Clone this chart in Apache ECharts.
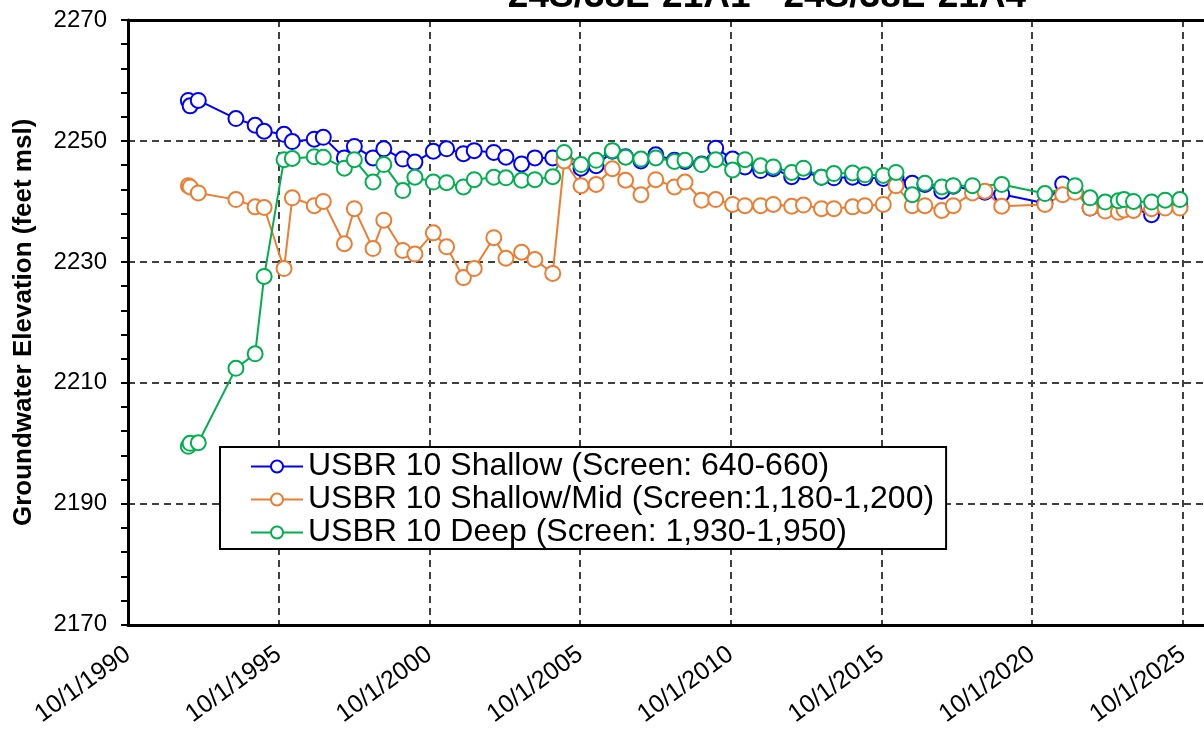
<!DOCTYPE html>
<html>
<head>
<meta charset="utf-8">
<script src="https://cdn.jsdelivr.net/npm/echarts@6/dist/echarts.min.js"></script>
<style>
  html, body { margin: 0; padding: 0; background: #fff; }
  #main { width: 1204px; height: 729px; }
</style>
</head>
<body>
<div id="main"></div>
<script type="text/javascript">
    // sampling dates (shared by the three wells)
    var dates = [
        '1992-10-01', '1992-10-23', '1993-01-30', '1994-05-01', '1994-12-20', '1995-04-08', '1995-12-05', '1996-03-14',
        '1996-12-05', '1997-03-25', '1997-12-05', '1998-04-05', '1998-11-17', '1999-03-28', '1999-11-13', '2000-04-08',
        '2000-11-17', '2001-04-27', '2001-11-17', '2002-03-28', '2002-11-20', '2003-04-16', '2003-10-23', '2004-04-01',
        '2004-11-03', '2005-03-22', '2005-10-12', '2006-04-13', '2006-10-27', '2007-04-05', '2007-10-08', '2008-04-05',
        '2008-11-17', '2009-03-25', '2009-10-12', '2010-04-01', '2010-10-23', '2011-03-22', '2011-09-27', '2012-02-28',
        '2012-10-08', '2013-02-28', '2013-10-04', '2014-03-04', '2014-10-16', '2015-03-14', '2015-10-23', '2016-03-25',
        '2016-10-08', '2017-03-10', '2017-10-01', '2018-02-17', '2018-10-08', '2019-03-07', '2019-09-27', '2021-03-04',
        '2021-10-05', '2022-03-04', '2022-09-02', '2023-03-04', '2023-08-11', '2023-10-19', '2024-02-10', '2024-09-16',
        '2025-02-28', '2025-08-25'
    ];

    // USBR 10 Shallow (Screen: 640-660)
    var shallow = [
        2256.7, 2255.8, 2256.7, 2253.7, 2252.6, 2251.6, 2251.1, 2249.9,
        2250.3, 2250.6, 2247.2, 2249.1, 2247.2, 2248.7, 2247.0, 2246.5,
        2248.3, 2248.7, 2247.9, 2248.4, 2248.1, 2247.3, 2246.2, 2247.2,
        2247.2, 2246.8, 2245.5, 2245.9, 2248.3, 2247.4, 2246.7, 2247.7,
        2246.8, 2246.6, 2246.2, 2248.8, 2247.0, 2245.7, 2245.1, 2245.4,
        2244.1, 2244.9, 2244.0, 2243.9, 2244.0, 2243.9, 2243.8, 2244.0,
        2243.0, 2242.8, 2241.7, 2242.5, null, 2241.5, 2241.2, 2239.7,
        2242.9, 2241.7, 2238.9, 2238.6, 2238.4, 2239.5, 2238.9, 2237.8,
        2239.2, 2239.2
    ];

    // USBR 10 Shallow/Mid (Screen:1,180-1,200)
    var shallowMid = [
        2242.6, 2242.4, 2241.4, 2240.3, 2239.1, 2239.0, 2228.9, 2240.6,
        2239.3, 2240.0, 2233.0, 2238.8, 2232.2, 2236.9, 2231.9, 2231.3,
        2234.8, 2232.5, 2227.4, 2228.9, 2234.0, 2230.6, 2231.6, 2230.4,
        2228.1, 2246.7, 2242.6, 2242.8, 2245.4, 2243.5, 2241.1, 2243.6,
        2242.4, 2243.2, 2240.2, 2240.3, 2239.5, 2239.3, 2239.3, 2239.5,
        2239.2, 2239.4, 2238.8, 2238.8, 2239.1, 2239.3, 2239.5, 2242.6,
        2239.3, 2239.3, 2238.5, 2239.3, 2241.4, 2241.7, 2239.2, 2239.5,
        2241.1, 2241.5, 2238.9, 2238.4, 2238.2, 2238.6, 2238.5, 2238.8,
        2238.9, 2238.9
    ];

    // USBR 10 Deep (Screen: 1,930-1,950)
    var deep = [
        2199.5, 2200.0, 2200.1, 2212.4, 2214.8, 2227.6, 2246.9, 2247.1,
        2247.4, 2247.3, 2245.5, 2246.9, 2243.2, 2246.1, 2241.8, 2244.0,
        2243.2, 2243.1, 2242.4, 2243.6, 2244.0, 2243.9, 2243.5, 2243.6,
        2244.1, 2248.1, 2246.1, 2246.8, 2248.4, 2247.3, 2247.0, 2247.2,
        2246.6, 2246.8, 2246.1, 2246.9, 2245.2, 2246.9, 2245.9, 2245.7,
        2244.8, 2245.5, 2244.0, 2244.6, 2244.7, 2244.4, 2244.3, 2244.8,
        2241.1, 2243.0, 2242.4, 2242.6, 2242.6, null, 2242.8, 2241.3,
        null, 2242.6, 2240.6, 2239.9, 2240.1, 2240.3, 2240.0, 2239.9,
        2240.2, 2240.3
    ];

    var seriesNames = [
        'USBR 10 Shallow (Screen: 640-660)',
        'USBR 10 Shallow/Mid (Screen:1,180-1,200)',
        'USBR 10 Deep (Screen: 1,930-1,950)'
    ];
    var seriesColors = ['#0000ff', '#ed7d31', '#00b050'];

    var FONT = '"Liberation Sans", Arial, sans-serif';
    var YEAR_MS = 365.25 * 864e5;
    var X_MIN = Date.UTC(1990, 9, 1);
    // plot is cut off by the right edge of the picture, a little after 10/1/2025
    var X_MAX = X_MIN + 35.7 * YEAR_MS;

    function pairs(values) {
        return dates.map(function (d, i) {
            return [Date.parse(d), values[i]];
        });
    }

    var myChart = echarts.init(document.getElementById('main'));

    var series = [shallow, shallowMid, deep].map(function (vals, i) {
        return {
            name: seriesNames[i],
            type: 'line',
            data: pairs(vals),
            connectNulls: true,
            symbol: 'emptyCircle',
            symbolSize: 15,
            showSymbol: true,
            color: seriesColors[i],
            lineStyle: { width: 2, color: seriesColors[i] },
            itemStyle: { color: seriesColors[i], borderWidth: 2.5 },
            animation: false
        };
    });

    var dashed = { color: '#404040', width: 2, type: [7, 5] };

    var option = {
        backgroundColor: '#fff',
        textStyle: { fontFamily: FONT },
        title: {
            text: '24S/38E-21A1 - 24S/38E-21A4',
            left: 767,
            top: -22,
            padding: 0,
            textAlign: 'center',
            textStyle: { fontSize: 37, fontWeight: 'bold', color: '#000', fontFamily: FONT }
        },
        grid: { left: 128, top: 20, right: 0, bottom: 103 },
        legend: {
            orient: 'vertical',
            left: 220,
            top: 447,
            padding: [3, 12, 0, 30],
            itemGap: 0,
            itemWidth: 52,
            itemHeight: 15,
            borderColor: '#000',
            borderWidth: 2,
            borderRadius: 0,
            backgroundColor: '#fff',
            textStyle: { fontSize: 32, color: '#000', fontFamily: FONT, lineHeight: 33 },
            data: seriesNames
        },
        xAxis: [{
            type: 'value',
            min: X_MIN,
            max: X_MAX,
            interval: 5 * YEAR_MS,
            axisLine: { show: true, onZero: false, lineStyle: { color: '#000', width: 3 } },
            axisTick: { show: false },
            splitLine: { show: true, showMaxLine: false, lineStyle: dashed },
            axisLabel: {
                rotate: 36,
                margin: 27,
                fontSize: 25,
                color: '#000',
                fontFamily: FONT,
                showMaxLabel: false,
                formatter: function (v) {
                    var yr = 1990 + Math.round((v - X_MIN) / YEAR_MS);
                    return yr % 5 === 0 ? '10/1/' + yr : '';
                }
            }
        }, {
            // top border of the plot area
            type: 'value',
            position: 'top',
            min: X_MIN,
            max: X_MAX,
            axisLine: { show: true, onZero: false, lineStyle: { color: '#000', width: 3 } },
            axisTick: { show: false },
            axisLabel: { show: false },
            splitLine: { show: false }
        }],
        yAxis: {
            type: 'value',
            min: 2170,
            max: 2270,
            interval: 20,
            name: 'Groundwater Elevation (feet msl)',
            nameLocation: 'middle',
            nameGap: 91,
            nameTextStyle: { fontSize: 26, fontWeight: 'bold', color: '#000', fontFamily: FONT },
            axisLine: { show: true, onZero: false, lineStyle: { color: '#000', width: 3 } },
            axisTick: { show: true, inside: false, length: 7, lineStyle: { color: '#000', width: 2 } },
            minorTick: { show: true, splitNumber: 5, length: 7, lineStyle: { color: '#000', width: 2 } },
            splitLine: { show: true, showMinLine: false, showMaxLine: false, lineStyle: dashed },
            axisLabel: {
                fontSize: 24,
                color: '#000',
                margin: 21,
                fontFamily: FONT,
                formatter: function (v) { return String(v); }
            }
        },
        series: series
    };

    myChart.setOption(option);
</script>
</body>
</html>
